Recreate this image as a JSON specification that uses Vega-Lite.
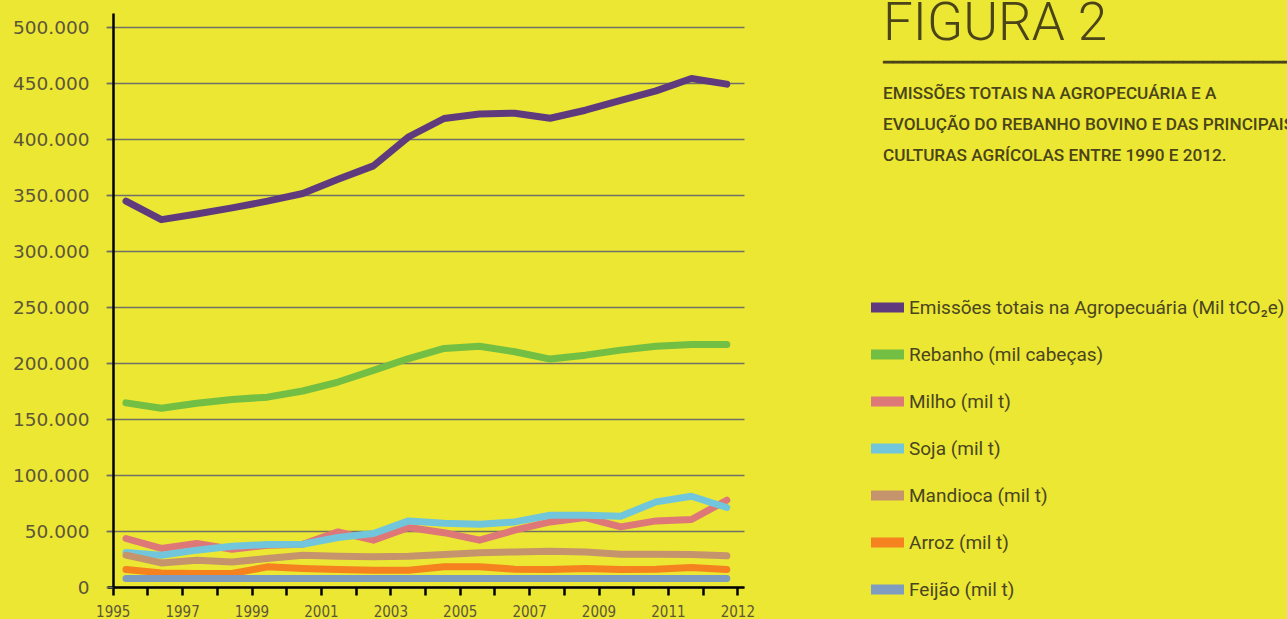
{
  "$schema": "https://vega.github.io/schema/vega-lite/v6.json",
  "width": 637,
  "height": 574,
  "autosize": {"type": "none"},
  "padding": {"left": 107, "top": 13, "right": 543, "bottom": 32},
  "background": "#ebe733",
  "title": {
    "text": "FIGURA 2",
    "subtitle": ["━━━━━━━━━━━━━━━━━━━━━━━━━━━━━━━━━━━━━━━━━", "EMISSÕES TOTAIS NA AGROPECUÁRIA E A", "EVOLUÇÃO DO REBANHO BOVINO E DAS PRINCIPAIS", "CULTURAS AGRÍCOLAS ENTRE 1990 E 2012."],
    "anchor": "start",
    "frame": "group",
    "font": "Roboto",
    "fontWeight": 300,
    "fontSize": 53,
    "color": "#4a4418",
    "subtitleFont": "Roboto",
    "subtitleFontSize": 17.2,
    "subtitleFontWeight": 500,
    "subtitleColor": "#4a4418",
    "subtitleLineHeight": 31,
    "subtitlePadding": 3,
    "offset": 0,
    "dx": 776,
    "dy": 151
  },
  "data": {"values": [
    {"ano": 1995, "Emissões totais na Agropecuária (Mil tCO₂e)": 344500, "Rebanho (mil cabeças)": 164400, "Milho (mil t)": 43300, "Soja (mil t)": 30800, "Mandioca (mil t)": 28400, "Arroz (mil t)": 15600, "Feijão (mil t)": 7500},
    {"ano": 1996, "Emissões totais na Agropecuária (Mil tCO₂e)": 328000, "Rebanho (mil cabeças)": 159600, "Milho (mil t)": 34400, "Soja (mil t)": 28400, "Mandioca (mil t)": 21500, "Arroz (mil t)": 12600, "Feijão (mil t)": 7500},
    {"ano": 1997, "Emissões totais na Agropecuária (Mil tCO₂e)": 333000, "Rebanho (mil cabeças)": 164000, "Milho (mil t)": 38800, "Soja (mil t)": 32900, "Mandioca (mil t)": 23900, "Arroz (mil t)": 12100, "Feijão (mil t)": 7500},
    {"ano": 1998, "Emissões totais na Agropecuária (Mil tCO₂e)": 338500, "Rebanho (mil cabeças)": 167500, "Milho (mil t)": 33700, "Soja (mil t)": 36400, "Mandioca (mil t)": 22400, "Arroz (mil t)": 12100, "Feijão (mil t)": 7500},
    {"ano": 1999, "Emissões totais na Agropecuária (Mil tCO₂e)": 344500, "Rebanho (mil cabeças)": 169500, "Milho (mil t)": 37300, "Soja (mil t)": 37900, "Mandioca (mil t)": 25400, "Arroz (mil t)": 18000, "Feijão (mil t)": 7500},
    {"ano": 2000, "Emissões totais na Agropecuária (Mil tCO₂e)": 351300, "Rebanho (mil cabeças)": 175000, "Milho (mil t)": 38200, "Soja (mil t)": 38200, "Mandioca (mil t)": 28400, "Arroz (mil t)": 16500, "Feijão (mil t)": 7500},
    {"ano": 2001, "Emissões totais na Agropecuária (Mil tCO₂e)": 364000, "Rebanho (mil cabeças)": 183000, "Milho (mil t)": 49200, "Soja (mil t)": 44200, "Mandioca (mil t)": 27500, "Arroz (mil t)": 15600, "Feijão (mil t)": 7500},
    {"ano": 2002, "Emissões totais na Agropecuária (Mil tCO₂e)": 376000, "Rebanho (mil cabeças)": 193400, "Milho (mil t)": 41800, "Soja (mil t)": 47800, "Mandioca (mil t)": 26900, "Arroz (mil t)": 15000, "Feijão (mil t)": 7500},
    {"ano": 2003, "Emissões totais na Agropecuária (Mil tCO₂e)": 402000, "Rebanho (mil cabeças)": 204000, "Milho (mil t)": 53100, "Soja (mil t)": 59000, "Mandioca (mil t)": 27500, "Arroz (mil t)": 15000, "Feijão (mil t)": 7500},
    {"ano": 2004, "Emissões totais na Agropecuária (Mil tCO₂e)": 418300, "Rebanho (mil cabeças)": 213000, "Milho (mil t)": 48500, "Soja (mil t)": 57000, "Mandioca (mil t)": 29000, "Arroz (mil t)": 18000, "Feijão (mil t)": 7500},
    {"ano": 2005, "Emissões totais na Agropecuária (Mil tCO₂e)": 422400, "Rebanho (mil cabeças)": 215000, "Milho (mil t)": 41800, "Soja (mil t)": 56000, "Mandioca (mil t)": 30500, "Arroz (mil t)": 18000, "Feijão (mil t)": 7500},
    {"ano": 2006, "Emissões totais na Agropecuária (Mil tCO₂e)": 423000, "Rebanho (mil cabeças)": 210000, "Milho (mil t)": 50700, "Soja (mil t)": 58100, "Mandioca (mil t)": 31300, "Arroz (mil t)": 15900, "Feijão (mil t)": 7500},
    {"ano": 2007, "Emissões totais na Agropecuária (Mil tCO₂e)": 418500, "Rebanho (mil cabeças)": 203500, "Milho (mil t)": 58100, "Soja (mil t)": 64100, "Mandioca (mil t)": 32000, "Arroz (mil t)": 15600, "Feijão (mil t)": 7500},
    {"ano": 2008, "Emissões totais na Agropecuária (Mil tCO₂e)": 425700, "Rebanho (mil cabeças)": 207000, "Milho (mil t)": 62000, "Soja (mil t)": 64100, "Mandioca (mil t)": 31300, "Arroz (mil t)": 16500, "Feijão (mil t)": 7500},
    {"ano": 2009, "Emissões totais na Agropecuária (Mil tCO₂e)": 434500, "Rebanho (mil cabeças)": 211500, "Milho (mil t)": 53700, "Soja (mil t)": 63200, "Mandioca (mil t)": 29300, "Arroz (mil t)": 15600, "Feijão (mil t)": 7500},
    {"ano": 2010, "Emissões totais na Agropecuária (Mil tCO₂e)": 443000, "Rebanho (mil cabeças)": 215000, "Milho (mil t)": 59000, "Soja (mil t)": 76000, "Mandioca (mil t)": 29300, "Arroz (mil t)": 15900, "Feijão (mil t)": 7500},
    {"ano": 2011, "Emissões totais na Agropecuária (Mil tCO₂e)": 454000, "Rebanho (mil cabeças)": 216500, "Milho (mil t)": 60300, "Soja (mil t)": 81000, "Mandioca (mil t)": 29000, "Arroz (mil t)": 17400, "Feijão (mil t)": 7500},
    {"ano": 2012, "Emissões totais na Agropecuária (Mil tCO₂e)": 449000, "Rebanho (mil cabeças)": 216500, "Milho (mil t)": 77500, "Soja (mil t)": 71000, "Mandioca (mil t)": 27800, "Arroz (mil t)": 15600, "Feijão (mil t)": 7500}
  ]},
  "transform": [
    {"fold": ["Emissões totais na Agropecuária (Mil tCO₂e)", "Rebanho (mil cabeças)", "Milho (mil t)", "Soja (mil t)", "Mandioca (mil t)", "Arroz (mil t)", "Feijão (mil t)"], "as": ["serie", "valor"]}
  ],
  "mark": {"type": "line", "strokeWidth": 7, "strokeCap": "round", "strokeJoin": "round"},
  "encoding": {
    "x": {
      "field": "ano",
      "type": "quantitative",
      "scale": {"domain": [1994.462, 2012.487], "zero": false, "nice": false},
      "axis": {
        "title": null,
        "values": [1994.624, 1995.6059, 1996.5878, 1997.5697, 1998.5516, 1999.5335, 2000.5154, 2001.4973, 2002.4792, 2003.4611, 2004.443, 2005.4249, 2006.4068, 2007.3887, 2008.3706, 2009.3525, 2010.3344, 2011.3163, 2012.2982],
        "labelExpr": "round((datum.value-1994.624)/0.9819) % 2 == 0 ? (round((datum.value-1994.624)/0.9819) == 18 ? '2012' : toString(1995 + round((datum.value-1994.624)/0.9819))) : ''",
        "grid": false,
        "domainColor": "#000000",
        "domainWidth": 2.5,
        "tickColor": "#000000",
        "tickWidth": 2.5,
        "tickSize": 8,
        "labelFont": "DejaVu Sans Condensed, Liberation Sans Narrow, sans-serif",
        "labelFontSize": 15,
        "labelColor": "#5e5638",
        "labelPadding": 9,
        "labelOverlap": false,
        "labelFlush": false,
        "labelBound": false
      }
    },
    "y": {
      "field": "valor",
      "type": "quantitative",
      "scale": {"domain": [0, 512500], "nice": false},
      "axis": {
        "title": null,
        "values": [0, 50000, 100000, 150000, 200000, 250000, 300000, 350000, 400000, 450000, 500000],
        "labelExpr": "replace(format(datum.value, ','), ',', '.')",
        "offset": -6,
        "domainColor": "#000000",
        "domainWidth": 2.5,
        "tickColor": "#707068",
        "tickWidth": 1.5,
        "tickSize": 7,
        "gridColor": "#707068",
        "gridWidth": 1.5,
        "labelFont": "DejaVu Sans",
        "labelFontSize": 18.5,
        "labelColor": "#5e5638",
        "labelPadding": 17
      }
    },
    "color": {
      "field": "serie",
      "type": "nominal",
      "sort": null,
      "scale": {
        "domain": ["Emissões totais na Agropecuária (Mil tCO₂e)", "Rebanho (mil cabeças)", "Milho (mil t)", "Soja (mil t)", "Mandioca (mil t)", "Arroz (mil t)", "Feijão (mil t)"],
        "range": ["#5f3b7e", "#72bf44", "#de7878", "#72c6dc", "#c6946c", "#f5821f", "#7e9cc0"]
      },
      "legend": {
        "title": null,
        "orient": "none",
        "legendX": 759,
        "legendY": 273,
        "padding": 0,
        "symbolType": "stroke",
        "symbolSize": 1089,
        "symbolStrokeWidth": 10,
        "symbolOpacity": 1,
        "labelFont": "Roboto",
        "labelFontSize": 19,
        "labelColor": "#4a4520",
        "labelOffset": 0,
        "labelLimit": 0,
        "rowPadding": 5
      }
    }
  },
  "config": {
    "view": {"stroke": null}
  }
}
